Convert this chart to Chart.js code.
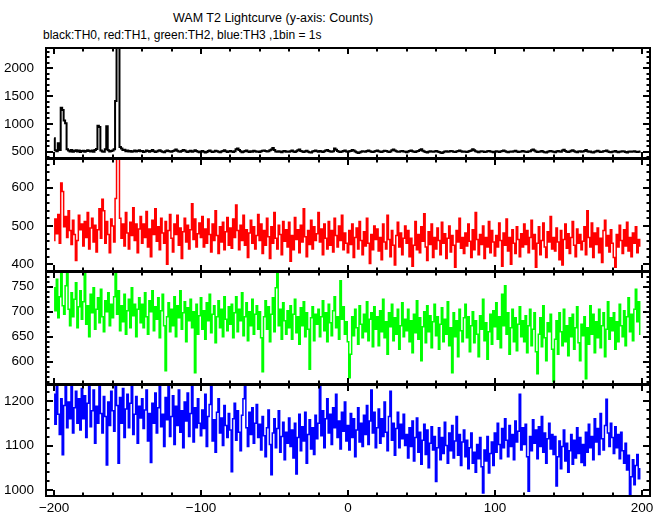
<!DOCTYPE html>
<html>
<head>
<meta charset="utf-8">
<title>WAM T2 Lightcurve</title>
<script src="https://cdn.jsdelivr.net/npm/chart.js@4.4.1/dist/chart.umd.min.js"></script>
<style>
  body { margin: 0; background: #fff; }
  #wrap { position: relative; width: 669px; height: 515px; overflow: hidden;
          font-family: "Liberation Sans", Arial, Helvetica, sans-serif; color: #000; }
  .ttl { position: absolute; white-space: nowrap; line-height: 1; }
  #wrap canvas { position: absolute; left: 0; }
</style>
</head>
<body>
<div id="wrap">
  <div class="ttl" style="left:173px; top:12px; font-size:12.5px;">WAM T2 Lightcurve (y-axis: Counts)</div>
  <div class="ttl" style="left:43px; top:29px; font-size:12px;">black:TH0, red:TH1, green:TH2, blue:TH3 ,1bin = 1s</div>
</div>
<script>
// ========================================
// DATA (1 bin = 1 s, bins start at -200 s)
// ========================================
const binStart = -200;
const binWidth = 1;

// x axis: labelled ticks, minor ticks every 20 s
const xTickLabels = [-200, -100, 0, 100, 200];
const xMinorStep = 20;

// y tick labels of each panel
const th0Ticks = [500, 1000, 1500, 2000];
const th1Ticks = [400, 500, 600];
const th2Ticks = [600, 650, 700, 750];
const th3Ticks = [1000, 1100, 1200];

// TH0 (black) counts per bin
const th0Counts = [
  740, 525, 510, 650, 530, 1290, 1250, 1060, 1010, 545, 520, 505, 530, 498, 515, 525, 505, 520, 495, 512, // -200
  518, 500, 512, 528, 515, 505, 520, 498, 530, 548, 965, 945, 520, 505, 498, 545, 960, 525, 505, 515,      // -180
  520, 545, 1410, 2600, 2550, 585, 560, 530, 535, 510, 522, 505, 515, 498, 510, 520, 505, 515, 525, 508,  // -160
  512, 495, 505, 522, 515, 500, 512, 530, 508, 494, 505, 518, 525, 510, 498, 492, 508, 520, 512, 502,     // -140
  498, 512, 522, 540, 518, 505, 498, 515, 530, 520, 506, 495, 510, 518, 500, 508, 525, 512, 498, 490,     // -120
  505, 515, 498, 485, 494, 512, 520, 505, 495, 502, 518, 508, 498, 490, 506, 515, 525, 510, 496, 504,     // -100
  512, 505, 495, 510, 545, 560, 530, 508, 492, 500, 515, 520, 505, 495, 510, 500, 518, 508, 498, 506,     // -80
  496, 508, 518, 522, 512, 503, 510, 528, 540, 568, 530, 505, 498, 510, 500, 492, 508, 514, 500, 505,     // -60
  498, 510, 520, 505, 495, 508, 525, 540, 515, 502, 496, 510, 518, 500, 490, 485, 505, 512, 520, 508,     // -40
  500, 512, 505, 495, 510, 522, 530, 515, 505, 498, 510, 560, 535, 512, 500, 495, 505, 515, 520, 505,     // -20
  498, 508, 515, 530, 520, 505, 492, 478, 485, 500, 510, 505, 498, 512, 520, 508, 500, 495, 505, 515,     // 0
  522, 510, 500, 495, 508, 518, 512, 502, 495, 505, 525, 540, 520, 508, 500, 498, 510, 515, 505, 498,     // 20
  492, 505, 512, 520, 510, 500, 495, 508, 515, 530, 545, 518, 505, 495, 488, 500, 510, 505, 498, 502,     // 40
  512, 505, 495, 485, 478, 490, 502, 510, 498, 505, 515, 508, 500, 495, 505, 512, 520, 510, 498, 505,     // 60
  500, 495, 505, 512, 520, 545, 525, 508, 498, 490, 502, 510, 505, 495, 500, 508, 515, 505, 498, 492,     // 80
  500, 508, 505, 495, 502, 512, 520, 508, 498, 492, 500, 505, 498, 510, 518, 505, 495, 500, 506, 512,     // 100
  505, 498, 495, 502, 510, 525, 540, 520, 505, 495, 498, 505, 512, 500, 492, 488, 500, 508, 512, 505,     // 120
  498, 492, 505, 515, 505, 498, 520, 535, 512, 500, 495, 505, 518, 525, 510, 498, 490, 502, 508, 498,     // 140
  505, 515, 530, 510, 498, 505, 492, 485, 498, 510, 518, 505, 495, 500, 508, 512, 520, 505, 495, 490,     // 160
  498, 505, 512, 500, 492, 498, 505, 510, 502, 495, 488, 500, 505, 498, 502, 508, 500, 495, 498, 505      // 180
];

// TH1 (red) counts per bin
const th1Counts = [
  462, 518, 480, 530, 455, 612, 590, 498, 525, 470, 540, 488, 452, 515, 478, 410, 462, 528, 490, 505, // -200
  448, 512, 470, 535, 440, 495, 520, 458, 502, 432, 490, 545, 468, 570, 540, 455, 512, 478, 430, 518, // -180
  500, 458, 572, 700, 695, 520, 468, 505, 448, 535, 482, 440, 510, 475, 548, 462, 505, 430, 492, 525, // -160
  455, 505, 470, 538, 445, 492, 420, 515, 478, 545, 460, 498, 438, 520, 482, 455, 512, 400, 488, 530, // -140
  468, 432, 505, 478, 528, 450, 495, 415, 485, 520, 458, 502, 440, 490, 558, 465, 518, 445, 480, 508, // -120
  470, 525, 445, 492, 455, 518, 478, 432, 505, 462, 540, 475, 428, 498, 458, 510, 438, 485, 522, 450, // -100
  495, 442, 518, 470, 555, 488, 438, 502, 462, 528, 450, 490, 418, 482, 515, 455, 498, 440, 475, 530, // -80
  462, 505, 428, 488, 450, 520, 472, 415, 498, 455, 535, 468, 440, 502, 478, 425, 512, 460, 490, 445, // -60
  510, 408, 475, 438, 522, 465, 490, 430, 502, 458, 545, 472, 420, 488, 452, 515, 440, 498, 462, 480, // -40
  535, 458, 492, 425, 505, 468, 440, 512, 450, 488, 432, 520, 475, 445, 500, 462, 528, 438, 482, 455, // -20
  430, 488, 452, 505, 418, 470, 495, 440, 512, 462, 425, 485, 448, 520, 455, 402, 478, 438, 500, 465, // 0
  492, 435, 470, 412, 505, 458, 440, 528, 465, 420, 488, 450, 398, 475, 510, 445, 482, 425, 468, 500, // 20
  455, 488, 420, 468, 395, 450, 512, 438, 478, 430, 498, 460, 532, 445, 410, 485, 452, 505, 418, 470, // 40
  440, 495, 462, 425, 510, 455, 480, 415, 468, 500, 432, 475, 450, 392, 488, 458, 520, 442, 470, 428, // 60
  482, 448, 505, 460, 418, 490, 438, 535, 465, 425, 478, 452, 500, 415, 470, 445, 512, 430, 488, 458, // 80
  422, 475, 445, 508, 462, 395, 482, 450, 518, 435, 470, 400, 490, 455, 428, 498, 465, 420, 480, 445, // 100
  505, 452, 488, 430, 470, 515, 440, 478, 392, 455, 498, 425, 462, 508, 445, 418, 485, 458, 525, 440, // 120
  470, 435, 495, 458, 412, 488, 398, 465, 505, 442, 480, 428, 470, 512, 450, 420, 492, 455, 478, 438, // 140
  460, 498, 425, 540, 470, 445, 508, 418, 482, 452, 495, 430, 468, 405, 488, 515, 448, 475, 432, 490, // 160
  455, 418, 392, 478, 445, 502, 462, 428, 490, 448, 510, 435, 470, 420, 482, 455, 498, 430, 465, 448  // 180
];

// TH2 (green) counts per bin
const th2Counts = [
  748, 702, 765, 688, 730, 782, 712, 695, 752, 785, 705, 672, 738, 690, 725, 758, 668, 710, 742, 685, // -200
  720, 790, 675, 712, 650, 735, 698, 748, 665, 705, 728, 678, 745, 690, 660, 722, 700, 738, 672, 715, // -180
  688, 730, 790, 695, 742, 662, 712, 680, 735, 655, 702, 725, 668, 748, 692, 715, 650, 705, 728, 678, // -160
  715, 668, 738, 690, 655, 722, 700, 742, 662, 710, 685, 728, 648, 702, 735, 672, 582, 690, 718, 660, // -140
  705, 672, 730, 650, 712, 688, 742, 665, 698, 720, 640, 708, 682, 725, 668, 700, 578, 715, 655, 692, // -120
  728, 665, 702, 645, 718, 682, 735, 658, 695, 712, 638, 690, 722, 668, 705, 650, 730, 685, 662, 710, // -100
  675, 715, 648, 698, 730, 660, 705, 682, 738, 652, 690, 718, 642, 700, 672, 725, 655, 695, 712, 665, // -80
  700, 648, 580, 690, 722, 665, 710, 640, 695, 728, 660, 748, 785, 672, 705, 645, 718, 682, 655, 702, // -60
  668, 712, 645, 695, 725, 658, 690, 635, 708, 672, 720, 650, 698, 665, 585, 688, 710, 642, 695, 675, // -40
  705, 650, 690, 722, 662, 698, 640, 715, 678, 652, 702, 730, 668, 690, 645, 762, 685, 710, 655, 680, // -20
  640, 568, 615, 690, 652, 705, 668, 635, 712, 675, 648, 695, 660, 720, 642, 685, 698, 630, 710, 665, // 0
  690, 632, 702, 660, 725, 648, 680, 615, 698, 670, 715, 642, 688, 655, 705, 625, 672, 718, 650, 685, // 20
  662, 705, 640, 682, 618, 695, 658, 722, 645, 688, 602, 670, 700, 638, 712, 660, 692, 628, 680, 715, // 40
  652, 690, 625, 675, 708, 640, 685, 655, 720, 632, 668, 578, 698, 650, 682, 610, 705, 662, 640, 688, // 60
  715, 648, 690, 620, 672, 700, 638, 682, 655, 610, 692, 665, 725, 642, 678, 605, 660, 695, 635, 702, // 80
  670, 718, 645, 690, 628, 735, 672, 752, 655, 698, 615, 668, 705, 640, 688, 622, 675, 710, 650, 682, // 100
  640, 692, 618, 672, 705, 632, 665, 698, 620, 576, 655, 688, 630, 712, 648, 602, 678, 660, 695, 625, // 120
  560, 645, 682, 615, 698, 660, 632, 705, 640, 672, 612, 688, 650, 695, 625, 668, 710, 638, 602, 675, // 140
  652, 690, 566, 668, 635, 712, 655, 695, 618, 680, 648, 705, 628, 672, 698, 610, 665, 720, 645, 688, // 160
  662, 698, 625, 680, 640, 715, 672, 650, 702, 632, 690, 728, 660, 695, 642, 705, 745, 680, 720, 655  // 180
];

// TH3 (blue) counts per bin
const th3Counts = [
  1215, 1148, 1232, 1170, 1125, 1205, 1079, 1190, 1238, 1140, 1198, 1160, 1240, 1128, 1185, 1222, 1150, 1205, 1135, 1228, // -200
  1160, 1212, 1118, 1195, 1238, 1142, 1178, 1225, 1105, 1188, 1150, 1235, 1172, 1128, 1210, 1165, 1056, 1198, 1145, 1222, // -180
  1178, 1132, 1236, 1190, 1060, 1208, 1150, 1228, 1118, 1182, 1215, 1140, 1195, 1240, 1125, 1170, 1210, 1105, 1188, 1162, // -160
  1205, 1138, 1180, 1225, 1110, 1172, 1062, 1195, 1150, 1218, 1128, 1185, 1240, 1142, 1170, 1098, 1208, 1158, 1232, 1120, // -140
  1165, 1212, 1102, 1188, 1145, 1225, 1130, 1178, 1095, 1198, 1155, 1218, 1120, 1172, 1238, 1108, 1185, 1140, 1205, 1150, // -120
  1122, 1180, 1138, 1215, 1098, 1165, 1192, 1232, 1110, 1158, 1085, 1175, 1205, 1128, 1162, 1100, 1190, 1145, 1118, 1172, // -100
  1135, 1041, 1160, 1195, 1112, 1178, 1130, 1088, 1168, 1205, 1238, 1140, 1098, 1175, 1125, 1185, 1105, 1150, 1192, 1118, // -80
  1148, 1090, 1165, 1122, 1075, 1140, 1180, 1102, 1034, 1128, 1160, 1095, 1138, 1178, 1085, 1120, 1152, 1068, 1130, 1105, // -60
  1162, 1098, 1135, 1072, 1150, 1036, 1118, 1170, 1088, 1142, 1110, 1175, 1060, 1125, 1158, 1092, 1140, 1080, 1168, 1115, // -40
  1150, 1236, 1122, 1178, 1095, 1160, 1205, 1128, 1170, 1102, 1185, 1140, 1215, 1118, 1155, 1092, 1175, 1132, 1198, 1110, // -20
  1145, 1090, 1172, 1118, 1160, 1075, 1135, 1185, 1108, 1150, 1098, 1168, 1125, 1190, 1102, 1155, 1225, 1128, 1175, 1095, // 0
  1140, 1182, 1105, 1160, 1120, 1198, 1130, 1088, 1165, 1222, 1112, 1150, 1078, 1138, 1175, 1095, 1148, 1115, 1170, 1100, // 20
  1125, 1072, 1140, 1098, 1155, 1065, 1118, 1162, 1085, 1130, 1058, 1112, 1148, 1080, 1135, 1050, 1105, 1142, 1090, 1120, // 40
  1019, 1095, 1140, 1068, 1118, 1082, 1152, 1100, 1060, 1128, 1088, 1145, 1072, 1110, 1165, 1078, 1125, 1055, 1108, 1135, // 60
  1075, 1112, 1048, 1095, 1128, 1060, 1085, 1040, 1102, 1070, 1118, 1052, 993, 1090, 1065, 1120, 1038, 1082, 1108, 1055,  // 80
  1128, 1085, 1150, 1102, 1070, 1138, 1095, 1160, 1112, 1075, 1145, 1098, 1125, 1068, 1155, 1108, 1132, 1215, 1090, 1140, // 100
  1102, 1148, 1075, 997, 1120, 1088, 1158, 1105, 1135, 1070, 1142, 1098, 1165, 1085, 1128, 1060, 1115, 1150, 1092, 1125,  // 120
  1080, 1120, 1009, 1075, 1110, 1048, 1098, 1135, 1065, 1105, 1040, 1088, 1125, 1058, 1112, 1072, 1140, 1082, 1118, 1062, // 140
  1102, 1055, 1130, 1085, 1148, 1095, 1120, 1068, 1160, 1108, 1138, 1080, 1172, 1115, 1090, 1145, 1204, 1128, 1098, 1150, // 160
  1118, 1082, 1142, 1095, 1125, 1070, 1130, 1088, 1060, 1105, 1045, 1078, 989, 1030, 1068, 1012, 1055, 1080, 1025, 1048   // 180
];

// ========================================
// LAYOUT
// ========================================
const xMin = -205.5;
const xMax = 205.5;
const PAD = 6;        // room round each panel for its frame
const AXIS_W = 46;    // left edge of the plot frame
const RIGHT_PAD = 19; // 669 - 19 = right edge of the frame
const X_AXIS_H = 22;  // height of the bottom tick labels

const panels = [
  { counts: th0Counts, color: "#000000", lineWidth: 2,   top: 48,  bottom: 158, yMin: 387,   yMax: 2365,  yTicks: th0Ticks, yMinor: 100 },
  { counts: th1Counts, color: "#ff0000", lineWidth: 1.5, top: 159, bottom: 271, yMin: 382.5, yMax: 675,   yTicks: th1Ticks, yMinor: 20 },
  { counts: th2Counts, color: "#00ff00", lineWidth: 1.5, top: 272, bottom: 384, yMin: 555.5, yMax: 779.5, yTicks: th2Ticks, yMinor: 10 },
  { counts: th3Counts, color: "#0000ff", lineWidth: 1.5, top: 385, bottom: 496, yMin: 986.5, yMax: 1236,  yTicks: th3Ticks, yMinor: 20 },
];

Chart.defaults.font.family = '"Liberation Sans", Arial, Helvetica, sans-serif';
Chart.defaults.font.size = 13.5;
Chart.defaults.color = "#000";

// frame + inward ticks on all four sides (PGPLOT style)
const frameTicks = {
  id: "frameTicks",
  afterDatasetsDraw(chart, args, opts) {
    const { ctx, chartArea: a, scales } = chart;
    const x = scales.x, y = scales.y;
    ctx.save();
    ctx.strokeStyle = "#000";
    ctx.lineWidth = 2;
    ctx.strokeRect(a.left, a.top, a.right - a.left, a.bottom - a.top);

    ctx.beginPath();
    const xFirst = xTickLabels[0];
    const xLast = xTickLabels[xTickLabels.length - 1];
    for (let v = xFirst; v <= xLast; v += xMinorStep) {
      const px = Math.round(x.getPixelForValue(v));
      const len = xTickLabels.includes(v) ? 6 : 3.5;
      ctx.moveTo(px, a.top);
      ctx.lineTo(px, a.top + len);
      ctx.moveTo(px, a.bottom);
      ctx.lineTo(px, a.bottom - len);
    }
    for (let v = Math.ceil(y.min / opts.yMinor) * opts.yMinor; v <= y.max; v += opts.yMinor) {
      const py = Math.round(y.getPixelForValue(v));
      const len = opts.yTicks.includes(v) ? 7 : 3.5;
      ctx.moveTo(a.left, py);
      ctx.lineTo(a.left + len, py);
      ctx.moveTo(a.right, py);
      ctx.lineTo(a.right - len, py);
    }
    ctx.stroke();
    ctx.restore();
  },
};

// ========================================
// RENDER
// ========================================
const wrap = document.getElementById("wrap");

panels.forEach((p, i) => {
  const last = i === panels.length - 1;
  const canvas = document.createElement("canvas");
  canvas.width = 669;
  canvas.height = (p.bottom - p.top) + PAD + (last ? X_AXIS_H : PAD);
  canvas.style.top = (p.top - PAD) + "px";
  wrap.appendChild(canvas);

  new Chart(canvas, {
    type: "line",
    data: {
      datasets: [
        {
          data: p.counts.map((c, k) => ({ x: binStart + k * binWidth, y: c })),
          borderColor: p.color,
          borderWidth: p.lineWidth,
          pointRadius: 0,
          stepped: "middle",
          fill: false,
        },
      ],
    },
    options: {
      responsive: false,
      animation: false,
      events: [],
      layout: { autoPadding: false, padding: { top: PAD, bottom: last ? 0 : PAD, left: 0, right: RIGHT_PAD } },
      plugins: {
        legend: { display: false },
        tooltip: { enabled: false },
        frameTicks: { yTicks: p.yTicks, yMinor: p.yMinor },
      },
      scales: {
        x: {
          type: "linear",
          min: xMin,
          max: xMax,
          display: last,
          grid: { display: false, drawTicks: false },
          border: { display: false },
          afterBuildTicks: (s) => { s.ticks = xTickLabels.map((v) => ({ value: v })); },
          afterFit: (s) => {
            s.height = last ? X_AXIS_H : 0;
            s.paddingLeft = 0;
            s.paddingRight = 0;
          },
          ticks: {
            autoSkip: false,
            maxRotation: 0,
            padding: 4,
            callback: (v) => (v < 0 ? "\u2212" + -v : String(v)),
          },
        },
        y: {
          type: "linear",
          min: p.yMin,
          max: p.yMax,
          grid: { display: false, drawTicks: false },
          border: { display: false },
          afterBuildTicks: (s) => { s.ticks = p.yTicks.map((v) => ({ value: v })); },
          afterFit: (s) => {
            s.width = AXIS_W;
            s.paddingTop = 0;
            s.paddingBottom = 0;
          },
          ticks: { padding: 12, callback: (v) => String(v) },
        },
      },
    },
    plugins: [frameTicks],
  });
});
</script>
</body>
</html>
